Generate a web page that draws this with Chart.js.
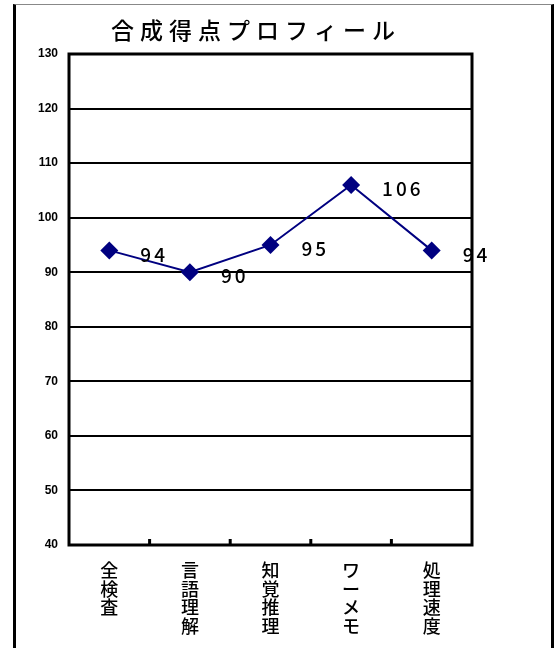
<!DOCTYPE html>
<html>
<head>
<meta charset="utf-8">
<script src="https://cdn.jsdelivr.net/npm/chart.js@4.4.0/dist/chart.umd.min.js"></script>
<style>
  body { margin: 0; background: #fff; }
  #wrap { position: absolute; left: 0; top: 0; width: 554px; height: 648px; }
  #frame { position: absolute; left: 13px; top: 4px; width: 535px; height: 700px;
    border-left: 3px solid #000; border-right: 3px solid #000; border-top: 1px solid #888; pointer-events: none; }
</style>
</head>
<body>
<div id="wrap"><canvas id="c"></canvas></div>
<div id="frame"></div>
<script>
const chartTitle = '合成得点プロフィール';
const categories = [['全','検','査'], ['言','語','理','解'], ['知','覚','推','理'], ['ワ','ー','メ','モ'], ['処','理','速','度']];
const scores = [94, 90, 95, 106, 94];
const yMin = 40;
const yMax = 130;

// title drawn by hand so it can get the wide letter spacing
const titlePlugin = {
  id: 'wideTitle',
  afterDraw(chart) {
    const ctx = chart.ctx;
    ctx.save();
    ctx.font = '500 23px "Noto Sans CJK JP"';
    ctx.letterSpacing = '6px';
    ctx.fillStyle = '#000';
    ctx.textAlign = 'center';
    ctx.textBaseline = 'middle';
    ctx.fillText(chartTitle, 256, 30);
    ctx.restore();
  }
};

// frame round the plot + little tick marks pointing inward
const boxPlugin = {
  id: 'plotBox',
  beforeDatasetsDraw(chart) {
    const { ctx, chartArea: a, scales } = chart;
    ctx.save();
    ctx.strokeStyle = '#000';
    ctx.lineWidth = 3;
    ctx.strokeRect(a.left, a.top, a.right - a.left, a.bottom - a.top);
    const x = scales.x;
    for (let i = 0; i < categories.length - 1; i++) {
      const px = (x.getPixelForValue(i) + x.getPixelForValue(i + 1)) / 2;
      ctx.beginPath();
      ctx.moveTo(px, a.bottom);
      ctx.lineTo(px, a.bottom - 6);
      ctx.stroke();
    }
    ctx.restore();
  }
};

const labelPlugin = {
  id: 'valLabels',
  afterDatasetsDraw(chart) {
    const ctx = chart.ctx;
    const meta = chart.getDatasetMeta(0);
    ctx.save();
    ctx.font = '500 19px "Noto Sans CJK JP"';
    ctx.letterSpacing = '3px';
    ctx.fillStyle = '#000';
    ctx.textAlign = 'left';
    ctx.textBaseline = 'middle';
    meta.data.forEach((pt, i) => {
      ctx.fillText(String(scores[i]), pt.x + 31, pt.y + 4);
    });
    ctx.restore();
  }
};

const ctx = document.getElementById('c').getContext('2d');
const chart = new Chart(ctx, {
  type: 'line',
  data: {
    labels: categories,
    datasets: [{
      data: scores,
      borderColor: '#000080',
      backgroundColor: '#000080',
      borderWidth: 2,
      pointStyle: 'rectRot',
      pointRadius: 9,
      pointBorderWidth: 0,
      tension: 0
    }]
  },
  options: {
    responsive: true,
    maintainAspectRatio: false,
    animation: false,
    layout: { padding: { top: 54, right: 82, left: 0, bottom: 0 } },
    plugins: { legend: { display: false }, tooltip: { enabled: false }, title: { display: false } },
    scales: {
      x: {
        offset: true,
        grid: { display: false, drawTicks: false },
        border: { display: false },
        ticks: {
          maxRotation: 0, autoSkip: false, padding: 16,
          color: '#000',
          font: { family: '"Noto Sans CJK JP"', size: 18, weight: '500', lineHeight: 1.03 }
        },
        afterFit(s) { s.height = 103; }
      },
      y: {
        min: yMin, max: yMax,
        grid: { color: '#000', lineWidth: 2, drawTicks: false },
        border: { display: false },
        ticks: {
          stepSize: 10, padding: 11, color: '#000',
          font: { family: 'Arial, "Liberation Sans"', size: 12, weight: 'bold' }
        },
        afterFit(s) { s.width = 69; }
      }
    }
  },
  plugins: [titlePlugin, boxPlugin, labelPlugin]
});
</script>
</body>
</html>
